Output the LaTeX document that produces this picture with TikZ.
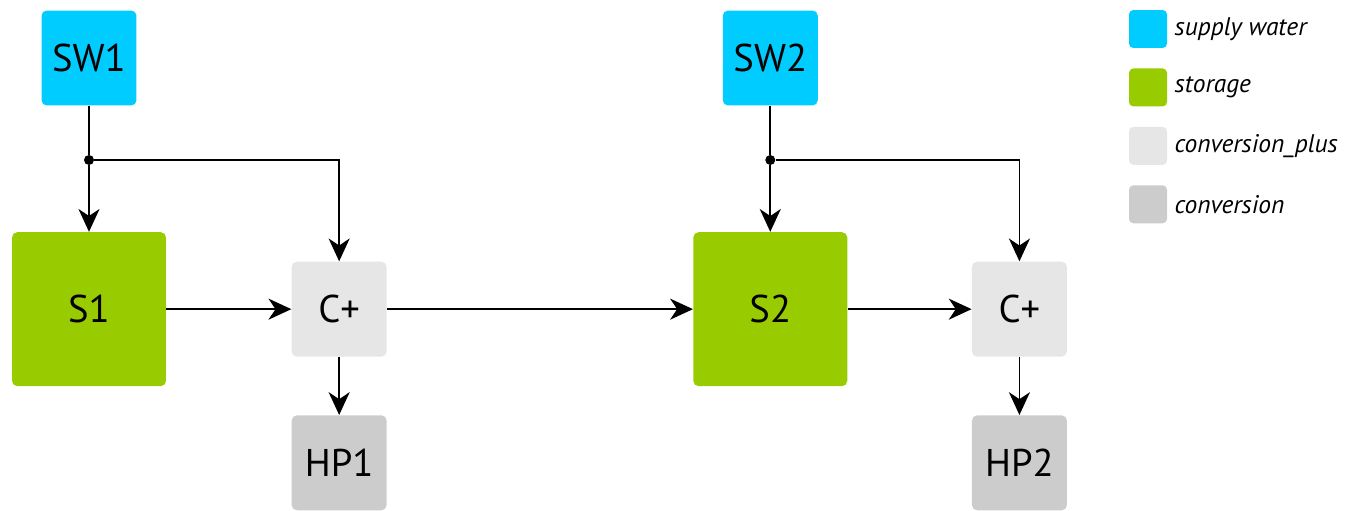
\documentclass[tikz,border=0pt]{standalone}
\usepackage{fontspec}
\setmainfont{PT Sans}
\usetikzlibrary{arrows.meta}
\usetikzlibrary{positioning}
\definecolor{supplyblue}{RGB}{0,204,255}
\definecolor{storagegreen}{RGB}{153,204,0}
\definecolor{convplusgrey}{RGB}{230,230,230}
\definecolor{convgrey}{RGB}{204,204,204}
\tikzset{
    unit/.style={
           rectangle,
           rounded corners=3pt,
           minimum size=1.9cm,
           inner sep=0pt,
           font=\fontsize{22}{26}\selectfont,
           text centered,
           },
    supply/.style={unit, fill=supplyblue},
    store/.style={unit, fill=storagegreen, minimum size=3.08cm},
    convplus/.style={unit, fill=convplusgrey},
    conv/.style={unit, fill=convgrey},
    key/.style={rectangle, rounded corners=2.5pt, minimum size=0.76cm, inner sep=0pt},
    keylabel/.style={inner sep=0pt, font=\fontsize{14.5}{17}\selectfont\itshape},
    flow/.style={line width=0.9pt, -{Stealth[length=13pt,width=12pt,inset=4pt]}},
    junction/.style={circle, fill=black, inner sep=0pt, minimum size=0.2cm},
}

\begin{document}
\begin{tikzpicture}[x=0.02cm,y=-0.02cm]

 % fix the page to the size of the reference
 \useasboundingbox (0,0) rectangle (1371,510);

 % first block: supply, storage, conversion
 \node[supply] (SW1) at (89,58) {SW1};
 \node[store, below=2.52cm of SW1] (S1) {S1};
 \node[convplus, right=2.5cm of S1] (C1) {C+};
 \node[conv, below=1.16cm of C1] (HP1) {HP1};

 % second block, placed from the first conversion
 \node[store, right=6.12cm of C1] (S2) {S2};
 \node[supply, above=2.52cm of S2] (SW2) {SW2};
 \node[convplus, right=2.48cm of S2] (C2) {C+};
 \node[conv, below=1.16cm of C2] (HP2) {HP2};

 % split points below the supplies
 \node[junction] (J1) at (SW1 |- 0,160) {};
 \node[junction] (J2) at (SW2 |- 0,160) {};

 % draw the flows
 \draw[line width=0.9pt] (SW1) -- (J1);
 \draw[flow] (J1) -- (S1);
 \draw[flow] (J1) -| (C1);
 \draw[flow] (S1) -- (C1);
 \draw[flow] (C1) -- (HP1);
 \draw[flow] (C1) -- (S2);
 \draw[line width=0.9pt] (SW2) -- (J2);
 \draw[flow] (J2) -- (S2);
 \draw[flow] (J2) -| (C2);
 \draw[flow] (S2) -- (C2);
 \draw[flow] (C2) -- (HP2);

 % legend
 \node[key, fill=supplyblue] (K1) at (1148,29) {};
 \node[key, fill=storagegreen, below=0.395cm of K1] (K2) {};
 \node[key, fill=convplusgrey, below=0.395cm of K2] (K3) {};
 \node[key, fill=convgrey, below=0.395cm of K3] (K4) {};
 \node[keylabel, right=0.14cm of K1] (L1) {supply water};
 \node[keylabel, right=0.14cm of K2] (L2) {storage};
 \node[keylabel, right=0.14cm of K3] (L3) {conversion\_plus};
 \node[keylabel, right=0.14cm of K4] (L4) {conversion};
\end{tikzpicture}
\end{document}
